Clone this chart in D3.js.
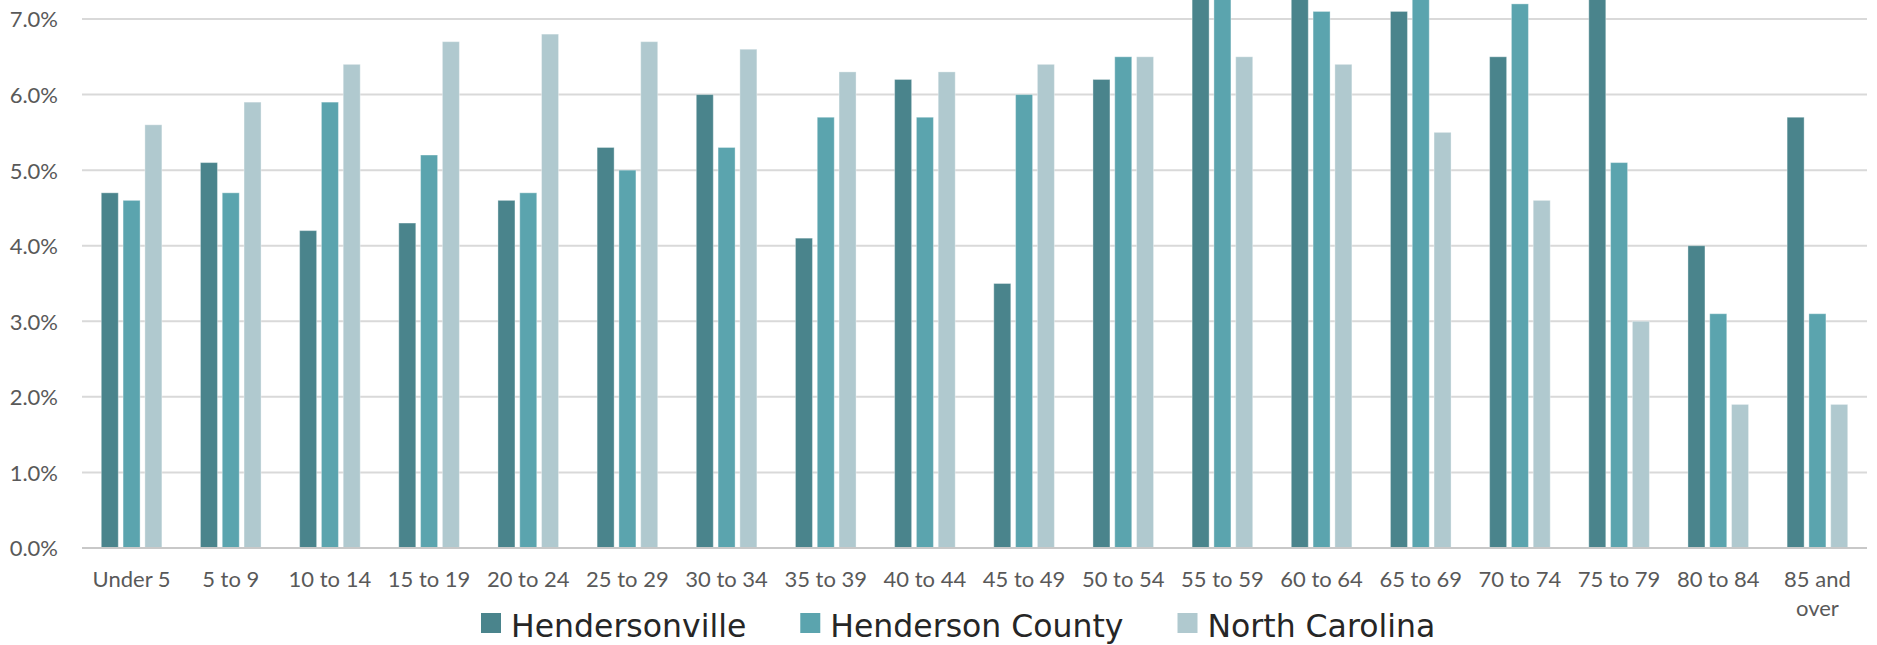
<!DOCTYPE html>
<html>
<head>
<meta charset="utf-8">
<script src="https://cdn.jsdelivr.net/npm/d3@7"></script>
<style>
  html, body { margin: 0; padding: 0; background: #ffffff; }
  svg { display: block; }
</style>
</head>
<body>
<svg id="chart" width="1877" height="645"></svg>
<script>
// Age groups along the x axis
const categories = ["Under 5", "5 to 9", "10 to 14", "15 to 19", "20 to 24", "25 to 29",
  "30 to 34", "35 to 39", "40 to 44", "45 to 49", "50 to 54", "55 to 59",
  "60 to 64", "65 to 69", "70 to 74", "75 to 79", "80 to 84", "85 and over"];

// Share of population in each age group (%)
const hendersonville = [4.7, 5.1, 4.2, 4.3, 4.6, 5.3, 6.0, 4.1, 6.2, 3.5, 6.2, 7.7, 7.6, 7.1, 6.5, 7.5, 4.0, 5.7];
const hendersonCounty = [4.6, 4.7, 5.9, 5.2, 4.7, 5.0, 5.3, 5.7, 5.7, 6.0, 6.5, 7.5, 7.1, 7.4, 7.2, 5.1, 3.1, 3.1];
const northCarolina = [5.6, 5.9, 6.4, 6.7, 6.8, 6.7, 6.6, 6.3, 6.3, 6.4, 6.5, 6.5, 6.4, 5.5, 4.6, 3.0, 1.9, 1.9];

const seriesNames = ["Hendersonville", "Henderson County", "North Carolina"];
const seriesValues = [hendersonville, hendersonCounty, northCarolina];
const seriesColors = ["#4a848c", "#5ba4ae", "#b0c9cf"];

// Y tick values (%)
const yTicks = [0, 1, 2, 3, 4, 5, 6, 7];

const svg = d3.select("#chart");
const W = 1877, H = 645;
const plot = { left: 82, right: 1867, bottom: 548, top7: 19 };

const x0 = d3.scaleBand()
  .domain(categories)
  .range([plot.left, plot.right])
  .paddingInner(0)
  .paddingOuter(0);

const groupSpan = 60.6;
const x1 = d3.scaleBand()
  .domain(seriesNames)
  .range([0, groupSpan])
  .paddingInner(0.22)
  .paddingOuter(0);

const y = d3.scaleLinear()
  .domain([0, 7])
  .range([plot.bottom, plot.top7]);

// Clip marks to the visible drawing area
svg.append("defs").append("clipPath").attr("id", "plotClip")
  .append("rect").attr("x", 0).attr("y", 0).attr("width", W).attr("height", plot.bottom);

// Gridlines
const grid = svg.append("g").attr("class", "grid");
grid.selectAll("line")
  .data(yTicks.filter(d => d > 0))
  .join("line")
  .attr("x1", plot.left).attr("x2", plot.right)
  .attr("y1", d => y(d)).attr("y2", d => y(d))
  .attr("stroke", "#d9d9d9")
  .attr("stroke-width", 2);

// Y axis labels
const yAxis = d3.axisLeft(y)
  .tickValues(yTicks)
  .tickSize(0)
  .tickPadding(0)
  .tickFormat(d => d3.format(".1f")(d) + "%");
const yG = svg.append("g")
  .attr("transform", `translate(${plot.left - 24},0)`)
  .call(yAxis);
yG.select(".domain").remove();
yG.selectAll("text")
  .attr("font-family", "Lato, 'Open Sans', sans-serif")
  .attr("font-size", 22)
  .attr("fill", "#595959")
  .attr("dy", "0.36em");

// Bars
const rows = categories.map((c, i) => ({
  cat: c,
  vals: seriesNames.map((s, k) => ({ series: s, value: seriesValues[k][i], color: seriesColors[k] }))
}));

const barsG = svg.append("g").attr("clip-path", "url(#plotClip)");
const groups = barsG.selectAll("g.group")
  .data(rows)
  .join("g")
  .attr("class", "group")
  .attr("transform", d => `translate(${x0(d.cat) + x0.bandwidth() / 2 - groupSpan / 2},0)`);

groups.selectAll("rect")
  .data(d => d.vals)
  .join("rect")
  .attr("x", d => x1(d.series))
  .attr("width", x1.bandwidth())
  .attr("y", d => y(d.value))
  .attr("height", d => y(0) - y(d.value))
  .attr("fill", d => d.color)
  .attr("stroke", "#ffffff")
  .attr("stroke-opacity", 0.35)
  .attr("stroke-width", 1);

// Baseline
svg.append("line")
  .attr("x1", plot.left).attr("x2", plot.right)
  .attr("y1", y(0)).attr("y2", y(0))
  .attr("stroke", "#c8c8c8")
  .attr("stroke-width", 2);

// X axis labels (long labels wrap onto a second line)
const xAxis = d3.axisBottom(x0).tickSize(0).tickPadding(0);
const xG = svg.append("g")
  .attr("transform", `translate(0,${plot.bottom})`)
  .call(xAxis);
xG.select(".domain").remove();
xG.selectAll("text")
  .attr("font-family", "Lato, 'Open Sans', sans-serif")
  .attr("font-size", 22)
  .attr("fill", "#595959")
  .attr("y", 39)
  .attr("dy", 0)
  .each(function(d) {
    const t = d3.select(this);
    if (d === "85 and over") {
      t.text(null);
      t.append("tspan").attr("x", 0).attr("y", 39).text("85 and");
      t.append("tspan").attr("x", 0).attr("y", 68).text("over");
    }
  });

// Legend
const legend = svg.append("g").attr("class", "legend");
let lx = 481;
seriesNames.forEach((name, k) => {
  const item = legend.append("g").attr("transform", `translate(${lx},0)`);
  item.append("rect")
    .attr("x", 0).attr("y", 613)
    .attr("width", 20).attr("height", 20)
    .attr("fill", seriesColors[k]);
  const txt = item.append("text")
    .attr("x", 30).attr("y", 637)
    .attr("font-family", "'DejaVu Sans', sans-serif")
    .attr("font-size", 31.5)
    .attr("fill", "#262626")
    .text(name);
  lx += 30 + txt.node().getComputedTextLength() + 54;
});
</script>
</body>
</html>
